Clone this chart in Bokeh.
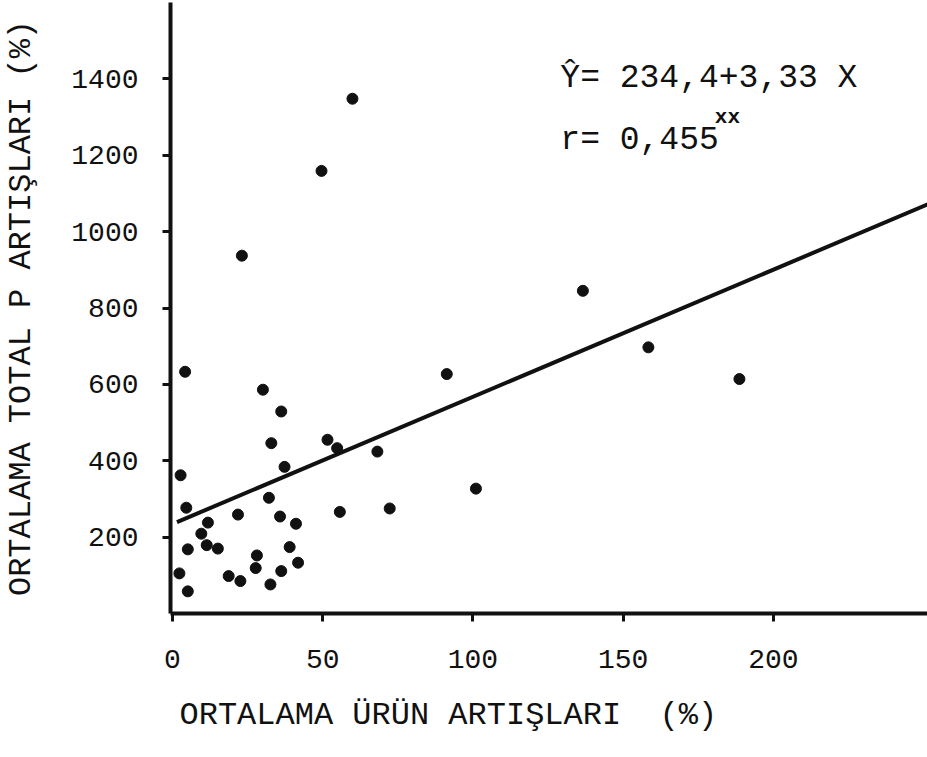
from bokeh.plotting import figure
from bokeh.models import Range1d, FixedTicker, Label, ColumnDataSource, Title
from bokeh.embed import file_html
from bokeh.resources import INLINE

# ---- data ----
urun_artis = [59.9, 49.6, 23.1, 4.2, 91.3, 30.1, 36.2, 32.9, 51.6, 54.8,
              68.2, 37.3, 2.7, 32.1, 4.6, 21.8, 35.8, 55.7, 72.3, 11.8,
              41.1, 9.6, 11.4, 15.1, 5.1, 39.0, 28.1, 41.8, 27.7, 36.2,
              2.3, 18.7, 22.6, 32.6, 5.1, 136.6, 158.4, 188.7, 101.0]
p_artis = [1348, 1159, 937, 633, 627, 586, 529, 446, 455, 433,
           424, 384, 362, 303, 277, 259, 254, 266, 275, 238,
           235, 209, 179, 170, 168, 174, 152, 133, 119, 111,
           105, 98, 85, 76, 58, 845, 697, 614, 327]

x_ticks = [0, 50, 100, 150, 200]
y_ticks = [200, 400, 600, 800, 1000, 1200, 1400]

reg_intercept = 234.4
reg_slope = 3.33
reg_x = [1.5, 260.0]

x_title = "ORTALAMA ÜRÜN ARTIŞLARI\u00a0 (%)"
y_title = "ORTALAMA TOTAL P ARTIŞLARI (%)"
eq_text = "Ŷ= 234,4+3,33 X"
r_text = "r= 0,455"
sig_text = "xx"

INK = "#111111"
FONT = "Liberation Mono"

p = figure(width=927, height=757,
           x_range=Range1d(-0.66, 251.3), y_range=Range1d(0, 1600),
           output_backend="svg", toolbar_location=None,
           min_border_left=166, min_border_right=0,
           min_border_top=2, min_border_bottom=143)
p.outline_line_color = None
p.xgrid.grid_line_color = None
p.ygrid.grid_line_color = None
p.background_fill_color = "white"
p.border_fill_color = "white"

for ax in (p.xaxis[0], p.yaxis[0]):
    ax.axis_line_width = 4
    ax.axis_line_color = INK
    ax.major_tick_line_width = 3
    ax.major_tick_line_color = INK
    ax.major_tick_in = 0
    ax.major_tick_out = 8
    ax.minor_tick_line_color = None
    ax.major_label_text_font = FONT
    ax.major_label_text_font_size = "28px"
    ax.major_label_text_color = INK

p.xaxis.ticker = FixedTicker(ticks=x_ticks)
p.yaxis.ticker = FixedTicker(ticks=y_ticks)
p.xaxis.major_label_standoff = 28
p.yaxis.major_label_standoff = 24

p.yaxis.axis_label = y_title
p.yaxis.axis_label_text_font = FONT
p.yaxis.axis_label_text_font_size = "32px"
p.yaxis.axis_label_text_font_style = "normal"
p.yaxis.axis_label_text_color = INK
p.yaxis.axis_label_standoff = 28

p.add_layout(Title(text=x_title, align="left", offset=9, standoff=48,
                   text_font=FONT, text_font_size="32px",
                   text_font_style="normal", text_color=INK), "below")

# regression line
reg_y = [reg_intercept + reg_slope * xv for xv in reg_x]
p.line(reg_x, reg_y, line_color=INK, line_width=4)

# points
src = ColumnDataSource(dict(x=urun_artis, y=p_artis))
p.scatter("x", "y", source=src, size=11, fill_color=INK, line_color=INK)

# annotations
p.add_layout(Label(x=129.1, y=1401, text=eq_text, text_font=FONT,
                   text_font_size="33px", text_color=INK, text_baseline="middle"))
p.add_layout(Label(x=129.1, y=1239, text=r_text, text_font=FONT,
                   text_font_size="33px", text_color=INK, text_baseline="middle"))
p.add_layout(Label(x=180.5, y=1300, text=sig_text, text_font=FONT,
                   text_font_size="21px", text_font_style="bold", text_color=INK,
                   text_baseline="middle"))

open("out.html", "w").write(file_html(p, INLINE))
